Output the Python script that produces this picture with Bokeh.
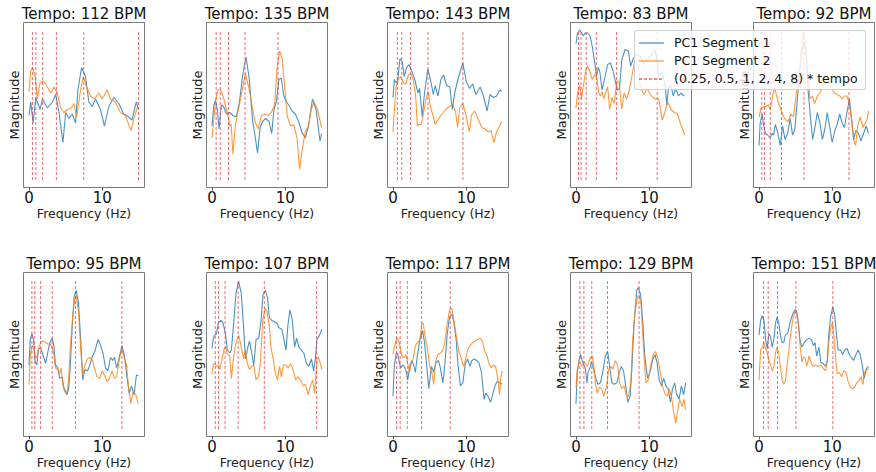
from bokeh.plotting import figure
from bokeh.layouts import gridplot, column
from bokeh.models import Range1d, FixedTicker, Div
from bokeh.embed import file_html
from bokeh.resources import INLINE

# ---------------- data ----------------
tempos = [112, 135, 143, 83, 92, 95, 107, 117, 129, 151]
multipliers = [0.25, 0.5, 1, 2, 4, 8]
max_freq = 15.0
x_ticks = [0, 10]
series_labels = ["PC1 Segment 1", "PC1 Segment 2", "(0.25, 0.5, 1, 2, 4, 8) * tempo"]

freq_112_s1 = [0, 0.24, 0.56, 0.92, 1.51, 1.83, 2.51, 3.19, 3.64, 4.09, 4.63, 5.0, 5.45, 5.9, 6.35, 6.67, 7.17, 7.71, 8.16, 8.62, 9.07, 9.75, 10.29, 10.88, 11.56, 12.24, 12.91, 13.59, 14.04, 14.63, 14.95]
mag_112_s1 = [0.43, 0.52, 0.38, 0.55, 0.47, 0.54, 0.48, 0.52, 0.57, 0.45, 0.25, 0.45, 0.41, 0.44, 0.38, 0.60, 0.75, 0.69, 0.52, 0.49, 0.54, 0.47, 0.36, 0.49, 0.55, 0.51, 0.44, 0.42, 0.40, 0.52, 0.47]
freq_112_s2 = [0, 0.24, 0.52, 0.83, 1.15, 1.51, 1.96, 2.51, 2.96, 3.41, 3.86, 4.32, 4.77, 5.22, 5.77, 6.13, 6.49, 7.03, 7.39, 7.85, 8.39, 8.93, 9.52, 9.97, 10.65, 11.1, 11.78, 12.46, 13.14, 13.91, 14.36, 14.81]
mag_112_s2 = [0.59, 0.73, 0.75, 0.69, 0.54, 0.65, 0.66, 0.62, 0.58, 0.62, 0.58, 0.48, 0.45, 0.47, 0.48, 0.51, 0.42, 0.60, 0.69, 0.62, 0.56, 0.54, 0.58, 0.54, 0.60, 0.54, 0.52, 0.45, 0.43, 0.33, 0.42, 0.49]

freq_135_s1 = [0, 0.25, 0.47, 0.74, 0.96, 1.28, 1.59, 1.95, 2.40, 2.85, 3.30, 3.74, 4.19, 4.64, 5.09, 5.54, 5.85, 6.21, 6.57, 6.88, 7.33, 7.78, 8.14, 8.45, 8.77, 9.13, 9.44, 9.80, 10.16, 10.47, 10.92, 11.36, 11.81, 12.26, 12.71, 13.16, 13.70, 14.19, 14.73, 14.95]
mag_135_s1 = [0.36, 0.50, 0.53, 0.47, 0.34, 0.50, 0.49, 0.44, 0.45, 0.43, 0.42, 0.52, 0.70, 0.82, 0.67, 0.39, 0.30, 0.18, 0.35, 0.39, 0.41, 0.39, 0.31, 0.47, 0.52, 0.67, 0.68, 0.56, 0.52, 0.50, 0.46, 0.44, 0.39, 0.32, 0.28, 0.36, 0.54, 0.47, 0.26, 0.31]
freq_135_s2 = [0, 0.25, 0.52, 0.83, 1.19, 1.50, 1.82, 2.17, 2.40, 2.62, 2.85, 3.16, 3.52, 3.97, 4.55, 5.00, 5.45, 5.85, 6.30, 6.75, 7.20, 7.65, 8.09, 8.54, 8.90, 9.22, 9.57, 9.93, 10.25, 10.70, 11.14, 11.59, 11.95, 12.26, 12.71, 13.16, 13.52, 13.92, 14.37, 14.95]
mag_135_s2 = [0.28, 0.41, 0.54, 0.60, 0.60, 0.56, 0.50, 0.43, 0.36, 0.37, 0.17, 0.36, 0.45, 0.56, 0.71, 0.62, 0.50, 0.39, 0.34, 0.43, 0.44, 0.43, 0.45, 0.50, 0.76, 0.86, 0.81, 0.61, 0.43, 0.36, 0.37, 0.28, 0.07, 0.19, 0.32, 0.36, 0.47, 0.52, 0.47, 0.35]

freq_143_s1 = [0, 0.19, 0.42, 0.64, 0.95, 1.26, 1.53, 1.84, 2.20, 2.60, 2.96, 3.41, 3.63, 3.99, 4.30, 4.74, 5.10, 5.50, 5.77, 6.13, 6.53, 6.89, 7.33, 7.74, 8.09, 8.41, 8.85, 9.52, 9.97, 10.42, 10.86, 11.31, 11.89, 12.34, 12.83, 13.23, 13.67, 14.12, 14.57, 14.79]
mag_143_s1 = [0.55, 0.67, 0.65, 0.66, 0.81, 0.79, 0.69, 0.75, 0.77, 0.72, 0.67, 0.58, 0.61, 0.42, 0.58, 0.74, 0.67, 0.57, 0.63, 0.56, 0.67, 0.70, 0.63, 0.62, 0.47, 0.58, 0.67, 0.78, 0.66, 0.61, 0.64, 0.57, 0.62, 0.56, 0.46, 0.57, 0.55, 0.56, 0.60, 0.59]
freq_143_s2 = [0, 0.19, 0.42, 0.73, 1.04, 1.40, 1.75, 2.11, 2.42, 2.74, 3.09, 3.32, 3.54, 3.85, 4.17, 4.52, 4.79, 5.10, 5.50, 5.77, 6.08, 6.53, 7.20, 7.65, 8.18, 8.54, 8.81, 9.08, 9.52, 9.97, 10.42, 10.68, 11.13, 11.67, 12.11, 12.56, 13.00, 13.36, 13.76, 14.12, 14.57, 14.79]
mag_143_s2 = [0.32, 0.47, 0.62, 0.67, 0.69, 0.65, 0.64, 0.70, 0.71, 0.67, 0.56, 0.36, 0.37, 0.37, 0.45, 0.54, 0.59, 0.49, 0.42, 0.37, 0.40, 0.43, 0.47, 0.49, 0.50, 0.45, 0.35, 0.48, 0.51, 0.43, 0.32, 0.43, 0.46, 0.40, 0.35, 0.34, 0.32, 0.33, 0.25, 0.32, 0.36, 0.39]

freq_83_s1 = [0, 0.21, 0.52, 0.79, 1.01, 1.24, 1.55, 1.91, 2.22, 2.53, 2.80, 3.02, 3.25, 3.56, 3.87, 4.32, 4.68, 5.04, 5.35, 5.66, 5.93, 6.24, 6.69, 7.14, 7.45, 7.81, 8.25, 8.79, 9.24, 9.82, 10.27, 10.72, 11.03, 11.30, 11.74, 12.19, 12.37, 12.64, 12.95, 13.26, 13.62, 13.98, 14.29, 14.74]
mag_83_s1 = [0.91, 0.98, 1.0, 0.98, 0.96, 0.98, 0.98, 0.96, 0.89, 0.79, 0.69, 0.75, 0.72, 0.60, 0.67, 0.77, 0.78, 0.73, 0.66, 0.60, 0.61, 0.80, 0.87, 0.86, 0.76, 0.81, 0.84, 0.82, 0.77, 0.81, 0.83, 0.87, 0.81, 0.69, 0.72, 0.62, 0.50, 0.62, 0.63, 0.56, 0.61, 0.56, 0.58, 0.56]
freq_83_s2 = [0, 0.21, 0.52, 0.74, 1.01, 1.33, 1.55, 1.91, 2.22, 2.53, 2.80, 3.11, 3.34, 3.56, 3.78, 4.01, 4.32, 4.59, 4.90, 5.21, 5.57, 5.88, 6.24, 6.55, 6.91, 7.27, 7.58, 7.90, 8.17, 8.48, 8.79, 9.24, 9.68, 10.13, 10.49, 10.85, 11.30, 11.74, 12.06, 12.50, 12.95, 13.40, 13.84, 14.29, 14.60, 14.83]
mag_83_s2 = [0.48, 0.58, 0.63, 0.54, 0.63, 0.73, 0.76, 0.72, 0.67, 0.70, 0.69, 0.58, 0.56, 0.59, 0.54, 0.58, 0.62, 0.47, 0.55, 0.51, 0.66, 0.65, 0.47, 0.58, 0.54, 0.60, 0.68, 0.77, 0.80, 0.76, 0.62, 0.57, 0.61, 0.57, 0.55, 0.54, 0.54, 0.40, 0.44, 0.52, 0.47, 0.45, 0.44, 0.37, 0.33, 0.30]

freq_92_s1 = [0, 0.16, 0.43, 0.65, 0.88, 1.19, 1.51, 1.78, 2.0, 2.23, 2.54, 2.90, 3.22, 3.54, 3.90, 4.26, 4.57, 4.89, 5.25, 5.70, 6.06, 6.37, 6.69, 7.05, 7.32, 7.63, 7.95, 8.31, 8.63, 8.99, 9.30, 9.66, 9.98, 10.34, 10.65, 11.01, 11.33, 11.64, 12.0, 12.32, 12.64, 12.91, 13.22, 13.58, 13.90, 14.26, 14.62, 14.93]
mag_92_s1 = [0.23, 0.38, 0.44, 0.36, 0.31, 0.30, 0.28, 0.31, 0.30, 0.37, 0.32, 0.23, 0.36, 0.27, 0.31, 0.41, 0.30, 0.34, 0.55, 0.80, 0.92, 0.87, 0.60, 0.40, 0.27, 0.35, 0.45, 0.38, 0.27, 0.34, 0.45, 0.35, 0.25, 0.33, 0.37, 0.44, 0.38, 0.35, 0.45, 0.54, 0.40, 0.27, 0.33, 0.31, 0.26, 0.31, 0.36, 0.31]
freq_92_s2 = [0, 0.29, 0.65, 0.97, 1.28, 1.55, 1.87, 2.09, 2.36, 2.68, 3.0, 3.36, 3.67, 3.99, 4.35, 4.71, 5.02, 5.34, 5.70, 6.06, 6.37, 6.69, 6.96, 7.28, 7.59, 7.95, 8.31, 8.63, 8.94, 9.21, 9.53, 9.89, 10.29, 10.65, 11.01, 11.33, 11.64, 12.0, 12.32, 12.64, 12.91, 13.18, 13.45, 13.81, 14.17, 14.48, 14.71, 14.93]
mag_92_s2 = [0.42, 0.48, 0.49, 0.49, 0.50, 0.47, 0.56, 0.62, 0.57, 0.51, 0.47, 0.42, 0.40, 0.39, 0.44, 0.42, 0.55, 0.67, 0.83, 0.99, 0.91, 0.68, 0.54, 0.56, 0.51, 0.56, 0.58, 0.62, 0.69, 0.72, 0.65, 0.61, 0.58, 0.57, 0.56, 0.54, 0.56, 0.56, 0.51, 0.40, 0.27, 0.23, 0.36, 0.42, 0.35, 0.38, 0.40, 0.46]

freq_95_s1 = [0, 0.17, 0.40, 0.62, 0.84, 1.07, 1.29, 1.60, 1.96, 2.27, 2.58, 2.85, 3.17, 3.39, 3.61, 3.92, 4.19, 4.50, 4.82, 5.17, 5.40, 5.62, 5.89, 6.16, 6.43, 6.74, 7.05, 7.32, 7.63, 7.98, 8.30, 8.66, 8.97, 9.42, 9.77, 10.08, 10.44, 10.75, 11.11, 11.42, 11.65, 11.96, 12.32, 12.67, 12.99, 13.34, 13.66, 13.97, 14.33, 14.64, 14.91]
mag_95_s1 = [0.43, 0.60, 0.64, 0.60, 0.45, 0.43, 0.54, 0.54, 0.49, 0.44, 0.52, 0.58, 0.61, 0.56, 0.43, 0.41, 0.34, 0.35, 0.26, 0.23, 0.27, 0.41, 0.69, 0.89, 0.93, 0.85, 0.60, 0.33, 0.40, 0.39, 0.43, 0.49, 0.52, 0.60, 0.56, 0.51, 0.41, 0.39, 0.48, 0.46, 0.48, 0.41, 0.48, 0.56, 0.50, 0.36, 0.24, 0.29, 0.23, 0.36, 0.36]
freq_95_s2 = [0, 0.17, 0.40, 0.62, 0.84, 1.07, 1.29, 1.60, 1.96, 2.27, 2.58, 2.94, 3.17, 3.39, 3.61, 3.92, 4.19, 4.37, 4.64, 4.95, 5.17, 5.40, 5.62, 5.89, 6.16, 6.43, 6.74, 7.05, 7.32, 7.63, 7.94, 8.30, 8.66, 8.97, 9.28, 9.64, 9.99, 10.31, 10.62, 10.98, 11.33, 11.65, 11.96, 12.32, 12.67, 12.99, 13.30, 13.57, 13.88, 14.19, 14.55, 14.91]
mag_95_s2 = [0.30, 0.49, 0.56, 0.55, 0.49, 0.48, 0.54, 0.58, 0.59, 0.58, 0.57, 0.57, 0.54, 0.50, 0.41, 0.40, 0.37, 0.41, 0.29, 0.26, 0.24, 0.33, 0.54, 0.71, 0.85, 0.90, 0.79, 0.54, 0.36, 0.43, 0.47, 0.48, 0.46, 0.40, 0.35, 0.34, 0.39, 0.36, 0.32, 0.34, 0.39, 0.34, 0.35, 0.47, 0.54, 0.48, 0.43, 0.28, 0.17, 0.25, 0.23, 0.17]

freq_107_s1 = [0, 0.18, 0.40, 0.62, 0.85, 1.16, 1.52, 1.83, 2.10, 2.42, 2.64, 2.96, 3.27, 3.63, 3.99, 4.30, 4.57, 4.89, 5.11, 5.34, 5.70, 6.01, 6.37, 6.68, 6.95, 7.27, 7.58, 7.81, 8.12, 8.48, 8.84, 9.15, 9.51, 9.82, 10.09, 10.36, 10.63, 10.95, 11.26, 11.53, 11.85, 12.16, 12.52, 12.88, 13.19, 13.55, 13.86, 14.09, 14.31, 14.67, 14.98]
mag_107_s1 = [0.54, 0.61, 0.63, 0.64, 0.71, 0.73, 0.71, 0.64, 0.53, 0.51, 0.53, 0.71, 0.91, 0.99, 0.91, 0.69, 0.47, 0.55, 0.59, 0.53, 0.43, 0.60, 0.61, 0.72, 0.90, 0.93, 0.88, 0.75, 0.73, 0.72, 0.71, 0.68, 0.67, 0.60, 0.53, 0.70, 0.80, 0.73, 0.55, 0.61, 0.55, 0.53, 0.51, 0.44, 0.42, 0.47, 0.39, 0.47, 0.60, 0.63, 0.67]
freq_107_s2 = [0, 0.18, 0.40, 0.62, 0.85, 1.07, 1.30, 1.61, 1.83, 2.10, 2.42, 2.64, 2.96, 3.27, 3.63, 3.99, 4.30, 4.53, 4.80, 5.11, 5.43, 5.70, 6.01, 6.33, 6.59, 6.91, 7.22, 7.49, 7.81, 8.03, 8.34, 8.61, 8.93, 9.20, 9.46, 9.73, 10.05, 10.36, 10.72, 11.04, 11.40, 11.71, 12.07, 12.43, 12.74, 13.10, 13.41, 13.73, 14.00, 14.31, 14.54, 14.76, 14.98]
mag_107_s2 = [0.37, 0.43, 0.44, 0.42, 0.43, 0.40, 0.45, 0.53, 0.55, 0.50, 0.49, 0.34, 0.49, 0.58, 0.63, 0.55, 0.47, 0.53, 0.44, 0.40, 0.42, 0.43, 0.33, 0.35, 0.44, 0.72, 0.81, 0.79, 0.69, 0.55, 0.47, 0.38, 0.33, 0.42, 0.35, 0.43, 0.43, 0.41, 0.44, 0.40, 0.33, 0.35, 0.33, 0.29, 0.30, 0.23, 0.29, 0.33, 0.24, 0.47, 0.48, 0.44, 0.40]

freq_117_s1 = [0, 0.17, 0.40, 0.62, 0.89, 1.07, 1.30, 1.52, 1.79, 2.01, 2.33, 2.60, 2.87, 3.05, 3.31, 3.67, 4.03, 4.30, 4.57, 4.88, 5.24, 5.55, 5.83, 6.19, 6.46, 6.81, 7.08, 7.40, 7.71, 8.02, 8.29, 8.61, 8.88, 9.19, 9.51, 9.87, 10.18, 10.49, 10.76, 11.08, 11.39, 11.75, 12.06, 12.42, 12.65, 12.96, 13.32, 13.63, 13.90, 14.22, 14.53, 14.89]
mag_117_s1 = [0.22, 0.42, 0.50, 0.51, 0.44, 0.41, 0.43, 0.42, 0.39, 0.33, 0.43, 0.46, 0.42, 0.38, 0.49, 0.60, 0.66, 0.58, 0.44, 0.27, 0.42, 0.38, 0.44, 0.46, 0.41, 0.31, 0.44, 0.64, 0.75, 0.77, 0.72, 0.60, 0.42, 0.29, 0.31, 0.44, 0.47, 0.42, 0.46, 0.47, 0.46, 0.44, 0.38, 0.20, 0.24, 0.22, 0.18, 0.24, 0.29, 0.32, 0.31, 0.30]
freq_117_s2 = [0, 0.17, 0.40, 0.62, 0.85, 1.07, 1.30, 1.52, 1.79, 2.01, 2.24, 2.51, 2.78, 3.05, 3.36, 3.67, 3.90, 4.12, 4.34, 4.66, 5.02, 5.29, 5.55, 5.83, 6.14, 6.46, 6.81, 7.08, 7.35, 7.71, 8.02, 8.29, 8.61, 8.97, 9.28, 9.60, 9.86, 10.18, 10.49, 10.85, 11.21, 11.52, 11.84, 12.20, 12.51, 12.83, 13.09, 13.41, 13.68, 13.99, 14.31, 14.53, 14.71, 14.89]
mag_117_s2 = [0.50, 0.55, 0.59, 0.61, 0.58, 0.52, 0.48, 0.48, 0.50, 0.44, 0.38, 0.44, 0.48, 0.56, 0.58, 0.60, 0.70, 0.71, 0.63, 0.55, 0.42, 0.38, 0.30, 0.46, 0.50, 0.51, 0.53, 0.59, 0.69, 0.80, 0.81, 0.73, 0.63, 0.52, 0.48, 0.42, 0.46, 0.53, 0.56, 0.58, 0.59, 0.60, 0.61, 0.59, 0.52, 0.49, 0.44, 0.41, 0.43, 0.42, 0.33, 0.23, 0.35, 0.39]

freq_129_s1 = [0, 0.18, 0.40, 0.63, 0.85, 1.08, 1.30, 1.48, 1.66, 1.89, 2.11, 2.34, 2.65, 2.97, 3.33, 3.64, 4.0, 4.32, 4.59, 4.90, 5.22, 5.58, 5.90, 6.17, 6.48, 6.84, 7.07, 7.38, 7.61, 7.92, 8.28, 8.51, 8.82, 9.09, 9.32, 9.54, 9.77, 10.08, 10.44, 10.76, 11.07, 11.34, 11.66, 11.97, 12.25, 12.56, 12.88, 13.15, 13.46, 13.69, 14.05, 14.37, 14.68, 14.95]
mag_129_s1 = [0.17, 0.38, 0.46, 0.50, 0.46, 0.43, 0.40, 0.31, 0.38, 0.41, 0.45, 0.41, 0.35, 0.30, 0.31, 0.38, 0.49, 0.52, 0.42, 0.31, 0.30, 0.31, 0.38, 0.42, 0.39, 0.27, 0.18, 0.22, 0.40, 0.71, 0.93, 0.95, 0.90, 0.73, 0.53, 0.42, 0.34, 0.38, 0.46, 0.50, 0.44, 0.33, 0.29, 0.34, 0.29, 0.27, 0.18, 0.27, 0.31, 0.24, 0.20, 0.29, 0.23, 0.31]
freq_129_s2 = [0, 0.18, 0.40, 0.63, 0.85, 1.08, 1.30, 1.53, 1.75, 1.98, 2.20, 2.43, 2.65, 2.88, 3.24, 3.51, 3.78, 4.14, 4.46, 4.77, 5.04, 5.36, 5.67, 5.94, 6.26, 6.57, 6.84, 7.16, 7.47, 7.74, 8.06, 8.37, 8.60, 8.87, 9.09, 9.32, 9.54, 9.86, 10.17, 10.53, 10.85, 11.12, 11.43, 11.79, 12.11, 12.43, 12.70, 13.01, 13.33, 13.60, 13.82, 14.14, 14.46, 14.73, 14.95]
mag_129_s2 = [0.28, 0.40, 0.45, 0.44, 0.42, 0.45, 0.44, 0.42, 0.45, 0.48, 0.49, 0.43, 0.31, 0.24, 0.28, 0.27, 0.22, 0.28, 0.40, 0.42, 0.40, 0.46, 0.43, 0.31, 0.27, 0.29, 0.23, 0.22, 0.31, 0.60, 0.79, 0.88, 0.90, 0.84, 0.64, 0.46, 0.31, 0.33, 0.42, 0.50, 0.52, 0.48, 0.40, 0.29, 0.24, 0.22, 0.27, 0.22, 0.11, 0.04, 0.11, 0.20, 0.15, 0.20, 0.13]

freq_151_s1 = [0, 0.22, 0.45, 0.67, 0.90, 1.12, 1.35, 1.57, 1.80, 2.02, 2.25, 2.47, 2.70, 2.92, 3.15, 3.37, 3.60, 3.91, 4.27, 4.59, 4.90, 5.13, 5.35, 5.58, 5.85, 6.16, 6.52, 6.83, 7.15, 7.42, 7.64, 7.87, 8.18, 8.41, 8.72, 9.08, 9.31, 9.53, 9.76, 10.07, 10.34, 10.57, 10.79, 11.11, 11.42, 11.69, 12.01, 12.32, 12.59, 12.90, 13.22, 13.53, 13.80, 14.07, 14.34, 14.61, 14.93]
mag_151_s1 = [0.63, 0.73, 0.76, 0.73, 0.60, 0.54, 0.64, 0.62, 0.55, 0.60, 0.71, 0.75, 0.71, 0.63, 0.58, 0.58, 0.63, 0.64, 0.72, 0.77, 0.80, 0.79, 0.72, 0.60, 0.55, 0.58, 0.60, 0.61, 0.60, 0.56, 0.58, 0.49, 0.55, 0.45, 0.44, 0.42, 0.46, 0.64, 0.75, 0.82, 0.76, 0.63, 0.53, 0.53, 0.50, 0.53, 0.54, 0.50, 0.48, 0.46, 0.50, 0.53, 0.50, 0.43, 0.34, 0.40, 0.42]
freq_151_s2 = [0, 0.22, 0.45, 0.67, 0.90, 1.12, 1.35, 1.57, 1.80, 2.02, 2.25, 2.47, 2.70, 2.92, 3.15, 3.37, 3.60, 3.91, 4.27, 4.59, 4.90, 5.17, 5.40, 5.62, 5.85, 6.07, 6.29, 6.52, 6.83, 7.15, 7.42, 7.73, 8.05, 8.41, 8.72, 9.08, 9.31, 9.53, 9.76, 9.98, 10.21, 10.43, 10.66, 10.97, 11.24, 11.56, 11.87, 12.14, 12.46, 12.77, 13.04, 13.35, 13.67, 13.94, 14.16, 14.39, 14.70, 14.93]
mag_151_s2 = [0.33, 0.53, 0.55, 0.58, 0.54, 0.51, 0.46, 0.43, 0.39, 0.42, 0.51, 0.55, 0.51, 0.42, 0.33, 0.30, 0.32, 0.46, 0.62, 0.73, 0.79, 0.77, 0.69, 0.55, 0.45, 0.48, 0.48, 0.42, 0.49, 0.44, 0.42, 0.43, 0.42, 0.43, 0.41, 0.39, 0.45, 0.59, 0.67, 0.71, 0.63, 0.49, 0.37, 0.38, 0.35, 0.39, 0.38, 0.32, 0.28, 0.27, 0.28, 0.31, 0.33, 0.35, 0.30, 0.38, 0.40, 0.40]

panel_series = {
    112: (freq_112_s1, mag_112_s1, freq_112_s2, mag_112_s2),
    135: (freq_135_s1, mag_135_s1, freq_135_s2, mag_135_s2),
    143: (freq_143_s1, mag_143_s1, freq_143_s2, mag_143_s2),
    83: (freq_83_s1, mag_83_s1, freq_83_s2, mag_83_s2),
    92: (freq_92_s1, mag_92_s1, freq_92_s2, mag_92_s2),
    95: (freq_95_s1, mag_95_s1, freq_95_s2, mag_95_s2),
    107: (freq_107_s1, mag_107_s1, freq_107_s2, mag_107_s2),
    117: (freq_117_s1, mag_117_s1, freq_117_s2, mag_117_s2),
    129: (freq_129_s1, mag_129_s1, freq_129_s2, mag_129_s2),
    151: (freq_151_s1, mag_151_s1, freq_151_s2, mag_151_s2),
}

# ---------------- layout / style ----------------
FONT = "DejaVu Sans"
BLUE = "#1f77b4"
ORANGE = "#ff7f0e"
RED = "#e8383d"
col_width = [150, 183, 181, 183, 179]
col_left = [23, 56, 54, 56, 56]
col_right = [6, 6, 6, 6, 2]
row_height = [223, 249]
row_top = [22, 49]
border_bottom = 35


def pair(a, b):
    n = min(len(a), len(b))
    return a[:n], b[:n]


def make_panel(idx, tempo):
    r, c = divmod(idx, 5)
    fx1, my1, fx2, my2 = panel_series[tempo]
    p = figure(width=col_width[c], height=row_height[r],
               x_range=Range1d(-0.75, 15.75), y_range=Range1d(-0.05, 1.05),
               output_backend="svg", toolbar_location=None,
               min_border_left=col_left[c], min_border_right=col_right[c],
               min_border_top=row_top[r], min_border_bottom=border_bottom,
               title=f"Tempo: {tempo} BPM")
    p.title.text_font = FONT
    p.title.text_font_size = "15px"
    p.title.text_font_style = "normal"
    p.title.text_color = "#111111"
    p.title.align = "center"
    p.title.standoff = 0
    p.grid.visible = False
    p.outline_line_color = "#7a7a7a"
    p.outline_line_width = 1
    p.background_fill_color = "white"
    p.border_fill_color = "white"

    x1, y1 = pair(fx1, my1)
    x2, y2 = pair(fx2, my2)
    p.line(x1, y1, line_color=BLUE, line_width=1.1, line_alpha=0.8)
    p.line(x2, y2, line_color=ORANGE, line_width=1.1, line_alpha=0.8)
    hx = [tempo / 60.0 * m for m in multipliers if tempo / 60.0 * m <= max_freq]
    p.segment(x0=hx, y0=[0] * len(hx), x1=hx, y1=[1] * len(hx),
              line_color=RED, line_dash="3 2", line_width=1, line_alpha=0.75)

    ax = p.xaxis[0]
    ax.ticker = FixedTicker(ticks=x_ticks)
    ax.minor_tick_line_color = None
    ax.axis_line_color = None
    ax.major_tick_in = 0
    ax.major_tick_out = 3
    ax.major_tick_line_color = "#555555"
    ax.major_label_text_font = FONT
    ax.major_label_text_font_size = "15px"
    ax.major_label_text_color = "#111111"
    ax.major_label_standoff = 0
    ax.axis_label = "Frequency (Hz)"
    ax.axis_label_text_font = FONT
    ax.axis_label_text_font_size = "12.5px"
    ax.axis_label_text_font_style = "normal"
    ax.axis_label_text_color = "#222222"
    ax.axis_label_standoff = 0

    ay = p.yaxis[0]
    ay.ticker = FixedTicker(ticks=[])
    ay.minor_tick_line_color = None
    ay.major_tick_line_color = None
    ay.axis_line_color = None
    ay.major_tick_in = 0
    ay.major_tick_out = 0
    ay.axis_label = "Magnitude"
    ay.axis_label_text_font = FONT
    ay.axis_label_text_font_size = "13px"
    ay.axis_label_text_font_style = "normal"
    ay.axis_label_text_color = "#222222"
    ay.axis_label_standoff = 2
    return p


panels = [make_panel(i, t) for i, t in enumerate(tempos)]
grid = gridplot([panels[:5], panels[5:]], toolbar_location=None)

# Legend of the "83 BPM" panel: in the original it spills over the neighbouring
# panel, which a frame-clipped Bokeh legend cannot do, so it is an overlay box.
def sample(color, dash=""):
    d = f' stroke-dasharray="{dash}"' if dash else ""
    return (f'<svg width="25" height="10" style="display:block;flex:none">'
            f'<line x1="0" y1="5" x2="25" y2="5" stroke="{color}" stroke-opacity="0.8" '
            f'stroke-width="1.3"{d}/></svg>')

samples = [sample(BLUE), sample(ORANGE), sample(RED, "3 2")]
rows = "".join(
    f'<div style="display:flex;align-items:center;height:18px;">{s}'
    f'<span style="margin-left:10px;white-space:nowrap;">{lab}</span></div>'
    for s, lab in zip(samples, series_labels))
legend_html = (
    '<div style="box-sizing:border-box;width:232px;height:60px;padding:3px 4px;'
    'background:rgba(255,255,255,0.8);border:1px solid rgba(204,204,204,0.9);border-radius:3px;'
    "font-family:'DejaVu Sans';font-size:12.5px;line-height:18px;color:#111111;\">"
    f"{rows}</div>")
legend_div = Div(text=legend_html,
                 styles={"position": "absolute", "left": "629px", "top": "25px", "z-index": "10"})

layout = column(grid, legend_div)

open("out.html", "w").write(file_html(layout, INLINE))
